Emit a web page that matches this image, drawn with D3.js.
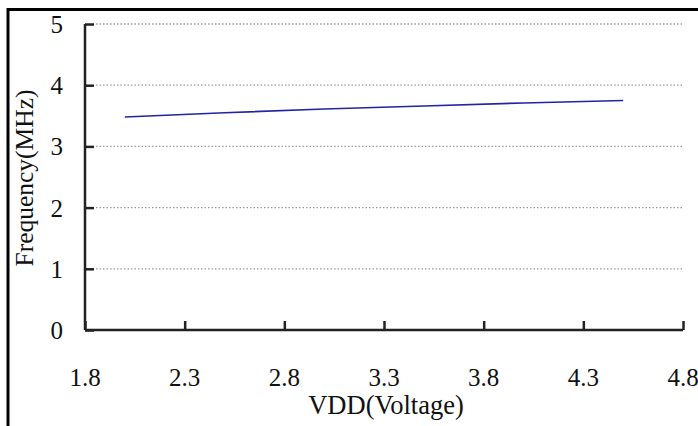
<!DOCTYPE html>
<html>
<head>
<meta charset="utf-8">
<script src="https://cdn.jsdelivr.net/npm/d3@7"></script>
<style>
  html, body { margin: 0; padding: 0; background: #fff; }
  svg { display: block; }
</style>
</head>
<body>
<svg id="chart" width="698" height="426"></svg>
<script>
const voltage = [2.0, 2.5, 3.0, 3.5, 4.0, 4.5];
const frequency = [3.48, 3.55, 3.61, 3.66, 3.71, 3.75];
const xTicks = [1.8, 2.3, 2.8, 3.3, 3.8, 4.3, 4.8];
const yTicks = [0, 1, 2, 3, 4, 5];

const FONT = "'Liberation Serif', 'Times New Roman', serif";
const svg = d3.select("#chart");
const mLeft = 85, mRight = 683, mTop = 24, mBottom = 330;

const x = d3.scaleLinear().domain([1.8, 4.8]).range([mLeft, mRight]);
const y = d3.scaleLinear().domain([0, 5]).range([mBottom, mTop]);

// frame
svg.append("path")
  .attr("d", `M8,426 L8,9.5 L698,9.5`)
  .attr("fill", "none").attr("stroke", "#000").attr("stroke-width", 3);

// gridlines
svg.append("g").selectAll("line")
  .data(yTicks.filter(d => d > 0))
  .join("line")
  .attr("x1", mLeft + 11).attr("x2", mRight)
  .attr("y1", d => y(d)).attr("y2", d => y(d))
  .attr("stroke", "#9a9a9a").attr("stroke-width", 1.3)
  .attr("stroke-dasharray", "1.5,2");

// y axis
const yAxis = svg.append("g")
  .attr("transform", `translate(${mLeft},0)`)
  .call(d3.axisRight(y).tickValues(yTicks).tickSize(9).tickFormat(""));
yAxis.select(".domain").attr("d", `M0,${mTop}V${mBottom}`).attr("stroke", "#222").attr("stroke-width", 2.5);
yAxis.selectAll(".tick line").attr("stroke", "#222").attr("stroke-width", 2.5);

svg.append("g").selectAll("text")
  .data(yTicks).join("text")
  .attr("x", 63).attr("y", d => y(d) + 9)
  .attr("text-anchor", "end")
  .style("font-family", FONT)
  .attr("font-size", 25).attr("fill", "#111")
  .text(d => d);

// x axis
const xAxis = svg.append("g")
  .attr("transform", `translate(0,${mBottom})`)
  .call(d3.axisTop(x).tickValues(xTicks).tickSize(9).tickFormat(""));
xAxis.select(".domain").attr("d", `M${mLeft},0H${mRight}`).attr("stroke", "#222").attr("stroke-width", 2.5);
xAxis.selectAll(".tick line").attr("stroke", "#222").attr("stroke-width", 2.5);

svg.append("g").selectAll("text")
  .data(xTicks).join("text")
  .attr("x", d => x(d)).attr("y", 386)
  .attr("text-anchor", "middle")
  .style("font-family", FONT)
  .attr("font-size", 25).attr("fill", "#111")
  .text(d => d.toFixed(1));

// series
svg.append("path")
  .datum(voltage.map((v, i) => [v, frequency[i]]))
  .attr("d", d3.line().x(d => x(d[0])).y(d => y(d[1])))
  .attr("fill", "none").attr("stroke", "#2424a2").attr("stroke-width", 1.6);

// axis titles
svg.append("text")
  .attr("x", (mLeft + mRight) / 2 + 2).attr("y", 414)
  .attr("text-anchor", "middle")
  .style("font-family", FONT)
  .attr("font-size", 26.5).attr("fill", "#111")
  .text("VDD(Voltage)");

svg.append("text")
  .attr("transform", `translate(33,${(mTop + mBottom) / 2 + 1}) rotate(-90)`)
  .attr("text-anchor", "middle")
  .style("font-family", FONT)
  .attr("font-size", 25.5).attr("fill", "#111")
  .text("Frequency(MHz)");
</script>
</body>
</html>
